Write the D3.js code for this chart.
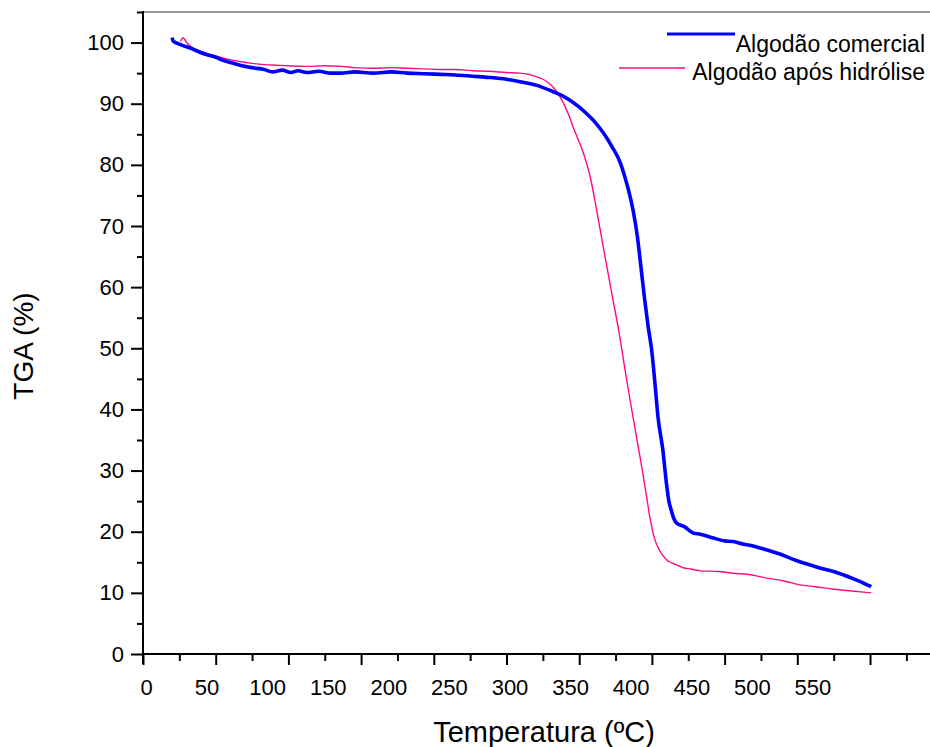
<!DOCTYPE html>
<html>
<head>
<meta charset="utf-8">
<script src="https://cdn.jsdelivr.net/npm/d3@7"></script>
<style>
  body { margin: 0; background: #fff; }
  svg text { font-family: "Liberation Sans", Arial, Helvetica, sans-serif; fill: #000; }
</style>
</head>
<body>
<svg id="chart" width="930" height="747"></svg>
<script>
// TGA curves: temperature (ºC) and mass (%)
const comercialTemp = [24, 25, 28, 33, 39, 46, 53, 60, 66, 73, 80, 90, 100, 107, 115, 122, 128, 135, 145, 155, 163, 175, 190, 205, 218, 232, 245, 258, 272, 286, 300, 311, 325, 338, 345, 352, 359, 366, 373, 380, 387, 394, 398, 402, 405, 408, 411, 414, 417, 419.8, 422.5, 425, 429, 432, 434, 436, 438, 440.4, 447, 454, 460, 470, 480, 487, 495, 505, 515, 525, 535, 542, 550, 560, 570, 580, 590, 601]
const comercialMass = [100.8, 100.2, 99.9, 99.5, 99.1, 98.5, 98.0, 97.6, 97.1, 96.7, 96.3, 95.9, 95.6, 95.2, 95.5, 95.1, 95.4, 95.1, 95.3, 95.0, 95.0, 95.2, 95.0, 95.2, 95.0, 94.9, 94.8, 94.7, 94.5, 94.3, 94.0, 93.6, 93.0, 92.0, 91.4, 90.6, 89.6, 88.4, 87.0, 85.2, 83.0, 80.3, 77.8, 74.8, 72.0, 68.3, 63.2, 58.0, 53.4, 49.7, 44.3, 38.8, 33.4, 27.9, 25.0, 23.5, 22.2, 21.4, 20.8, 19.8, 19.6, 19.0, 18.5, 18.4, 18.0, 17.6, 17.0, 16.4, 15.6, 15.1, 14.6, 14.0, 13.5, 12.8, 12.0, 11.0]

const hidroliseTemp = [31, 33, 36, 41.5, 47, 53, 60, 70, 80, 90, 100, 110, 120, 135, 150, 163, 175, 190, 205, 218, 232, 245, 258, 272, 286, 300, 311, 318, 325, 332, 338, 343, 347, 351, 355, 359, 363.5, 369, 374.4, 379, 383.5, 388, 392.5, 397, 402, 407, 411.6, 415.7, 419, 422, 426.7, 432, 440, 446, 452, 460, 475, 487, 500, 515, 530, 542, 555, 570, 585, 601]
const hidroliseMass = [100.2, 100.8, 100.0, 99.1, 98.6, 98.2, 97.8, 97.3, 96.9, 96.6, 96.4, 96.3, 96.2, 96.1, 96.2, 96.1, 95.9, 95.8, 95.9, 95.8, 95.7, 95.6, 95.6, 95.4, 95.3, 95.1, 95.0, 94.8, 94.4, 93.8, 92.8, 91.5, 90.1, 88.3, 86.2, 84.2, 81.9, 78.1, 72.6, 67.5, 62.6, 57.8, 53.0, 47.5, 41.5, 35.8, 30.6, 25.6, 21.6, 19.0, 16.8, 15.4, 14.6, 14.1, 13.9, 13.6, 13.5, 13.2, 13.0, 12.4, 11.9, 11.3, 11.0, 10.6, 10.3, 10.0]

const seriesNames = ['Algodão comercial', 'Algodão após hidrólise']
const seriesColors = ['#0000ff', '#ff0a84']
const xLabelTicks = [0, 50, 100, 150, 200, 250, 300, 350, 400, 450, 500, 550]
const xMarkMajor = [0, 60, 120, 180, 240, 300, 360, 420, 480, 540, 600]
const xMarkMinor = [30, 90, 150, 210, 270, 330, 390, 450, 510, 570, 630]
const yMajorTicks = [0, 10, 20, 30, 40, 50, 60, 70, 80, 90, 100]
const yMinorTicks = [5, 15, 25, 35, 45, 55, 65, 75, 85, 95, 105]

const svg = d3.select('#chart')
const plotLeft = 143
const plotBottom = 654
const plotTop = 12

const xScale = d3.scaleLinear().domain([0, 650]).range([plotLeft, plotLeft + 650 * 1.2117])
const yScale = d3.scaleLinear().domain([0, 105]).range([plotBottom, plotTop])

// frame: gray top line
svg.append('line')
  .attr('x1', plotLeft).attr('x2', 930)
  .attr('y1', plotTop).attr('y2', plotTop)
  .attr('stroke', '#7a7a7a').attr('stroke-width', 1.5)

// x axis tick marks
const styleTicks = g => {
  g.select('.domain').remove()
  g.selectAll('.tick line').attr('stroke', '#000').attr('stroke-width', 2)
}
svg.append('g')
  .attr('transform', `translate(0, ${plotBottom})`)
  .call(d3.axisBottom(xScale).tickValues(xMarkMajor).tickSize(11).tickFormat(''))
  .call(styleTicks)
svg.append('g')
  .attr('transform', `translate(0, ${plotBottom})`)
  .call(d3.axisBottom(xScale).tickValues(xMarkMinor).tickSize(7).tickFormat(''))
  .call(styleTicks)

// x axis labels
svg.append('g')
  .attr('transform', `translate(3, ${plotBottom})`)
  .call(d3.axisBottom(xScale).tickValues(xLabelTicks).tickSize(0).tickPadding(25))
  .call(g => g.select('.domain').remove())
  .call(g => g.selectAll('text').style('font-size', '22px').attr('font-family', null))

// y axis
svg.append('g')
  .attr('transform', `translate(${plotLeft}, 0)`)
  .call(d3.axisLeft(yScale).tickValues(yMajorTicks).tickSize(12).tickPadding(7))
  .call(styleTicks)
  .call(g => g.selectAll('text').style('font-size', '22px').attr('font-family', null))
svg.append('g')
  .attr('transform', `translate(${plotLeft}, 0)`)
  .call(d3.axisLeft(yScale).tickValues(yMinorTicks).tickSize(6).tickFormat(''))
  .call(styleTicks)

// axis lines
svg.append('line')
  .attr('x1', plotLeft).attr('x2', 930)
  .attr('y1', plotBottom).attr('y2', plotBottom)
  .attr('stroke', '#000').attr('stroke-width', 2)
svg.append('line')
  .attr('x1', plotLeft).attr('x2', plotLeft)
  .attr('y1', plotTop - 1).attr('y2', plotBottom + 10)
  .attr('stroke', '#000').attr('stroke-width', 2)

// axis titles
svg.append('text')
  .text('Temperatura (ºC)')
  .style('font-size', '29px')
  .style('text-anchor', 'middle')
  .attr('x', 544).attr('y', 742)
svg.append('text')
  .text('TGA (%)')
  .style('font-size', '28px')
  .style('text-anchor', 'middle')
  .attr('transform', 'translate(33, 346) rotate(-90)')

// curves
const line = d3.line()
  .x(d => xScale(d[0]))
  .y(d => yScale(d[1]))
  .curve(d3.curveMonotoneX)

const hidrolise = d3.zip(hidroliseTemp, hidroliseMass)
const comercial = d3.zip(comercialTemp, comercialMass)

svg.append('path')
  .datum(hidrolise)
  .attr('d', line)
  .attr('fill', 'none')
  .attr('stroke', seriesColors[1])
  .attr('stroke-width', 1.4)

svg.append('path')
  .datum(comercial)
  .attr('d', line)
  .attr('fill', 'none')
  .attr('stroke', seriesColors[0])
  .attr('stroke-width', 3.6)
  .attr('stroke-linejoin', 'round')

// legend
const legend = svg.append('g')
legend.append('line')
  .attr('x1', 667).attr('x2', 735).attr('y1', 34).attr('y2', 34)
  .attr('stroke', seriesColors[0]).attr('stroke-width', 3)
legend.append('text')
  .text(seriesNames[0])
  .style('font-size', '23px')
  .style('text-anchor', 'end')
  .attr('x', 925).attr('y', 52)
legend.append('line')
  .attr('x1', 619).attr('x2', 685).attr('y1', 68).attr('y2', 68)
  .attr('stroke', seriesColors[1]).attr('stroke-width', 1.3)
legend.append('text')
  .text(seriesNames[1])
  .style('font-size', '23px')
  .style('text-anchor', 'end')
  .attr('x', 925).attr('y', 80)
</script>
</body>
</html>
